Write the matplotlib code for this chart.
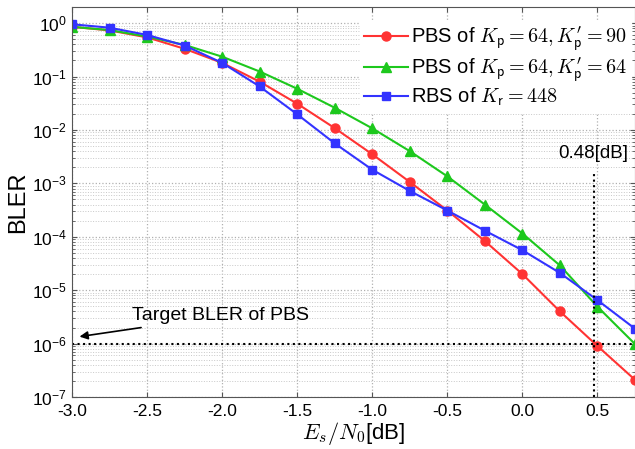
import numpy as np
import matplotlib
matplotlib.use('Agg')
import matplotlib.pyplot as plt
from matplotlib.ticker import LogLocator, NullFormatter, FixedLocator

plt.rcParams['font.family'] = ['Liberation Sans', 'DejaVu Sans']
plt.rcParams['mathtext.fontset'] = 'cm'

# ---------------- data ----------------
snr = [-3.0, -2.75, -2.5, -2.25, -2.0, -1.75, -1.5, -1.25, -1.0,
       -0.75, -0.5, -0.25, 0.0, 0.25, 0.5, 0.75]

bler_pbs90 = [0.85, 0.73, 0.54, 0.33, 0.18, 0.08, 0.031, 0.0108, 3.5e-3,
              1.06e-3, 3.1e-4, 8.3e-5, 2.0e-5, 4.0e-6, 9.0e-7, 2.1e-7]
bler_pbs64 = [0.85, 0.74, 0.56, 0.39, 0.235, 0.124, 0.059, 0.026, 0.0107,
              4.0e-3, 1.35e-3, 4.0e-4, 1.15e-4, 2.9e-5, 4.9e-6, 9.8e-7]
bler_rbs = [0.95, 0.82, 0.6, 0.38, 0.18, 0.065, 0.0196, 5.6e-3, 1.8e-3,
            7.2e-4, 3.1e-4, 1.3e-4, 5.6e-5, 2.1e-5, 6.5e-6, 1.9e-6]

labels = [r'PBS of $K_{\mathsf{p}}=64, K^{\prime}_{\mathsf{p}}=90$',
          r'PBS of $K_{\mathsf{p}}=64, K^{\prime}_{\mathsf{p}}=64$',
          r'RBS of $K_{\mathsf{r}}=448$']

target_bler = 1e-6
gap_x = 0.48
xticks = [-3.0, -2.5, -2.0, -1.5, -1.0, -0.5, 0.0, 0.5]

# ---------------- plot ----------------
fig = plt.figure(figsize=(6.35, 4.49), dpi=100)
ax = fig.add_axes([0.1134, 0.1158, 0.8866, 0.8686])

ax.semilogy(snr, bler_pbs90, '-o', color='#ff3333', lw=1.5, ms=6.5, label=labels[0])
ax.semilogy(snr, bler_pbs64, '-^', color='#1dc81d', lw=1.5, ms=6.5, label=labels[1])
ax.semilogy(snr, bler_rbs, '-s', color='#3333ff', lw=1.5, ms=6, label=labels[2])

ax.axhline(target_bler, color='k', ls=':', lw=1.5)
ax.plot([gap_x, gap_x], [1e-7, 1.6e-3], color='k', ls=':', lw=1.5)
ax.text(gap_x - 0.01, 3.6e-3, '0.48[dB]', fontsize=13.5, ha='center', va='center')
ax.annotate('Target BLER of PBS', xy=(-2.95, 1.35e-6), xytext=(-2.6, 3.3e-6),
            fontsize=14, va='center', ha='left',
            arrowprops=dict(arrowstyle='-|>', color='k', lw=1.2, mutation_scale=12,
                            shrinkA=2, shrinkB=0))

ax.set_xlim(-3.0, 0.75)
ax.set_ylim(1e-7, 2)
ax.xaxis.set_major_locator(FixedLocator(xticks))
ax.set_xticklabels(['%.1f' % t for t in xticks])
ax.yaxis.set_major_locator(LogLocator(base=10, numticks=20))
ax.yaxis.set_minor_locator(LogLocator(base=10, subs=np.arange(2, 10), numticks=20))
ax.yaxis.set_minor_formatter(NullFormatter())

ax.grid(which='major', color='#b0b0b0', ls=':', lw=0.9)
ax.grid(which='minor', axis='y', color='#c8c8c8', ls=':', lw=0.7)
ax.tick_params(which='both', direction='in', top=True, right=True, labelsize=12.5,
               color='#555555')
ax.tick_params(axis='x', pad=5)
for s in ax.spines.values():
    s.set_color('#555555')

ax.set_xlabel(r'$E_s/N_0$[dB]', fontsize=16, labelpad=1)
ax.set_ylabel('BLER', fontsize=17, labelpad=2)

leg = ax.legend(loc='upper right', bbox_to_anchor=(1.0, 0.975), fontsize=14.5,
                frameon=True, handlelength=2.2, handletextpad=0.15,
                borderaxespad=0.2, labelspacing=0.1, borderpad=0.2,
                fancybox=False)
leg.get_frame().set_edgecolor('white')
leg.get_frame().set_facecolor('white')
leg.get_frame().set_alpha(1.0)

fig.savefig('out.png', dpi=100)
